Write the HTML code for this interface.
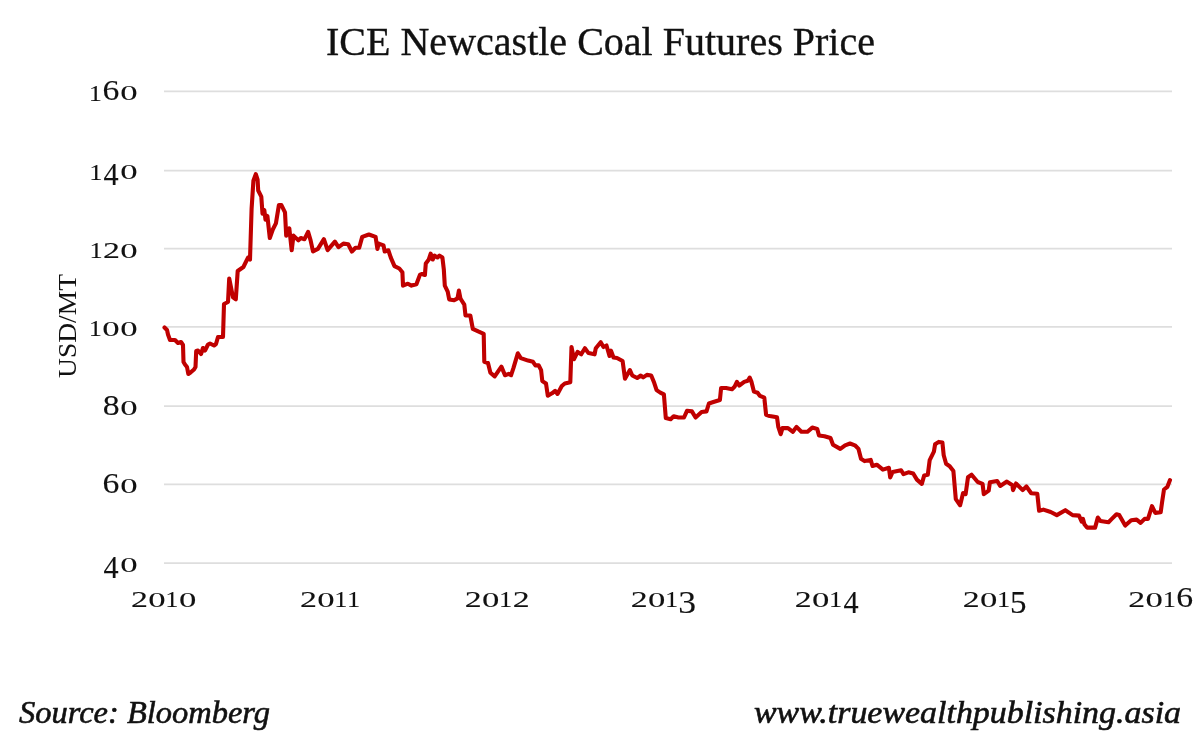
<!DOCTYPE html>
<html><head><meta charset="utf-8"><style>
html,body{margin:0;padding:0;background:#fff;}
svg{display:block;filter:blur(0.45px);}
text{font-family:"Liberation Serif",serif;fill:#111;}
.dg text{font-size:100px;stroke:#111;stroke-width:0.4px;}
</style></head><body>
<svg width="1200" height="740" viewBox="0 0 1200 740">
<rect width="1200" height="740" fill="#fff"/>
<g stroke="#dedede" stroke-width="1.8">
<line x1="164" y1="91.3" x2="1172" y2="91.3" />
<line x1="164" y1="170.6" x2="1172" y2="170.6" />
<line x1="164" y1="248.7" x2="1172" y2="248.7" />
<line x1="164" y1="326.8" x2="1172" y2="326.8" />
<line x1="164" y1="406.1" x2="1172" y2="406.1" />
<line x1="164" y1="484.3" x2="1172" y2="484.3" />
<line x1="164" y1="563.2" x2="1172" y2="563.2" />
</g>
<text x="326" y="55" stroke="#111" stroke-width="0.35" font-size="40" textLength="549" lengthAdjust="spacingAndGlyphs">ICE Newcastle Coal Futures Price</text>
<g class="dg">
<text transform="matrix(0.2629 0 0 0.2242 88.83 100.55)">1</text><text transform="matrix(0.3372 0 0 0.3015 102.45 99.95)">6</text><text transform="matrix(0.3476 0 0 0.2176 120.31 100.11)">0</text>
<text transform="matrix(0.2629 0 0 0.2242 89.13 179.85)">1</text><text transform="matrix(0.3021 0 0 0.3136 103.50 185.44)">4</text><text transform="matrix(0.3476 0 0 0.2176 120.31 179.41)">0</text>
<text transform="matrix(0.2629 0 0 0.2242 89.43 257.95)">1</text><text transform="matrix(0.3390 0 0 0.2209 103.04 257.73)">2</text><text transform="matrix(0.3476 0 0 0.2176 120.31 257.51)">0</text>
<text transform="matrix(0.2629 0 0 0.2242 88.73 336.05)">1</text><text transform="matrix(0.3476 0 0 0.2176 102.31 335.61)">0</text><text transform="matrix(0.3476 0 0 0.2176 120.31 335.61)">0</text>
<text transform="matrix(0.3381 0 0 0.3015 102.75 414.75)">8</text><text transform="matrix(0.3476 0 0 0.2176 120.31 414.91)">0</text>
<text transform="matrix(0.3372 0 0 0.3015 102.45 492.95)">6</text><text transform="matrix(0.3476 0 0 0.2176 120.31 493.11)">0</text>
<text transform="matrix(0.3021 0 0 0.3136 103.50 578.04)">4</text><text transform="matrix(0.3476 0 0 0.2176 120.31 572.01)">0</text>
<text transform="matrix(0.3390 0 0 0.2209 131.04 607.08)">2</text><text transform="matrix(0.3476 0 0 0.2176 148.31 606.86)">0</text><text transform="matrix(0.2629 0 0 0.2242 165.33 607.30)">1</text><text transform="matrix(0.3476 0 0 0.2176 178.91 606.86)">0</text>
<text transform="matrix(0.3390 0 0 0.2209 300.04 607.08)">2</text><text transform="matrix(0.3476 0 0 0.2176 317.31 606.86)">0</text><text transform="matrix(0.2629 0 0 0.2242 334.33 607.30)">1</text><text transform="matrix(0.2629 0 0 0.2242 346.93 607.30)">1</text>
<text transform="matrix(0.3390 0 0 0.2209 464.74 607.08)">2</text><text transform="matrix(0.3476 0 0 0.2176 482.01 606.86)">0</text><text transform="matrix(0.2629 0 0 0.2242 499.03 607.30)">1</text><text transform="matrix(0.3390 0 0 0.2209 512.64 607.08)">2</text>
<text transform="matrix(0.3390 0 0 0.2209 630.74 607.08)">2</text><text transform="matrix(0.3476 0 0 0.2176 648.01 606.86)">0</text><text transform="matrix(0.2629 0 0 0.2242 665.03 607.30)">1</text><text transform="matrix(0.3561 0 0 0.3090 678.22 612.89)">3</text>
<text transform="matrix(0.3390 0 0 0.2209 794.74 607.08)">2</text><text transform="matrix(0.3476 0 0 0.2176 812.01 606.86)">0</text><text transform="matrix(0.2629 0 0 0.2242 829.03 607.30)">1</text><text transform="matrix(0.3021 0 0 0.3136 843.40 612.89)">4</text>
<text transform="matrix(0.3390 0 0 0.2209 962.74 607.08)">2</text><text transform="matrix(0.3476 0 0 0.2176 980.01 606.86)">0</text><text transform="matrix(0.2629 0 0 0.2242 997.03 607.30)">1</text><text transform="matrix(0.3300 0 0 0.3136 1010.02 612.89)">5</text>
<text transform="matrix(0.3390 0 0 0.2209 1128.34 607.08)">2</text><text transform="matrix(0.3476 0 0 0.2176 1145.61 606.86)">0</text><text transform="matrix(0.2629 0 0 0.2242 1162.63 607.30)">1</text><text transform="matrix(0.3372 0 0 0.3015 1176.25 606.70)">6</text>
</g>
<text transform="translate(76,378) rotate(-90)" font-size="26" textLength="104" lengthAdjust="spacingAndGlyphs">USD/MT</text>
<polyline fill="none" stroke="#c00000" stroke-width="4.1" stroke-linejoin="round" stroke-linecap="round" points="164.5,327.5 167,330 168,334.5 170,340 175,340 178,343 181,342 183,345 183.5,362 185,364.5 187,367 188.3,374 190.5,372.5 194,369.5 195.5,367 196.2,351 198,350.5 201,354 203,348 205,350.5 208,344.5 210,343.5 214,345.5 216,344 218,337 223,337 224,304 228,302 229.2,278.5 233,297.4 235.8,299.3 237.7,271 243.4,267 248,257.7 250,259.6 251.6,208.8 253.4,180.8 255.8,174.1 257.6,179.6 258.2,190.5 261.3,196.6 262.5,213.7 264.3,210 265.5,219.7 267.4,216 269.8,238 272.8,229.5 275.9,223.4 278.9,205.1 281.4,205.1 285,212.4 286.2,235.6 289.3,228.3 291.7,250.2 293.5,235.6 298.4,240.4 300.8,238 304.5,239.2 308.1,231.9 310.6,240.4 313,251.4 317.9,248.9 323.9,239.2 327.6,250.2 334.9,241.6 338.5,247.2 343.4,243.6 348.2,244.2 351.9,251.5 355.5,247.8 359.2,247.8 362.2,236.9 368.9,234.5 375.6,236.9 377.4,249 378.7,243.6 383.5,245.4 384.7,251.5 388.4,250.3 390.8,257.6 394.5,266.1 399.3,268.5 402.4,272.2 403,285.6 407.9,283.7 411.5,285.6 416.4,284.3 420,274.6 422,274 424.9,275 425.8,263.4 428.8,259.5 430.7,253.6 432.7,259.5 434.6,255.6 437.5,257.5 439.5,255.6 442.4,257.5 443.8,269.2 444.8,285.7 447.7,291.6 449.2,299.4 454.1,300.3 457.5,298.4 458.9,290.6 460.4,298.4 461.2,299.7 464.3,304.6 465.5,315.5 470.3,315.5 472.8,328.9 478.2,331.4 483.7,333.8 484.3,361.8 488,363 490.4,372.7 494.7,376.4 501.4,366.6 505,375.2 508.7,373.9 511.1,375.2 513.5,367.9 517.8,353.3 520.8,358.1 528.1,360.6 533,361.8 535.4,365.4 538.6,365.3 541.1,370.1 542.3,381.1 546,383.5 547.8,395.7 552,393.3 555.1,390.8 557.5,393.9 561.8,386 564.8,383.5 570.3,382.3 571.5,347 573.9,359.2 577.6,351.9 581.2,354.3 584.9,348.2 588.5,353.1 594.6,354.3 595.8,348.2 600.7,342.2 603.5,347 606.5,345.5 609.5,356 611,350.7 613.5,357.5 617,358 622.6,361 625,378.7 629.9,370.1 632.3,375.5 637.2,378 640.8,375.5 643.2,377.4 646.9,374.9 651.2,375.5 654.2,382.8 656.6,390.1 660.3,392.6 663.9,394.4 665.8,418.1 670.6,419.3 673.7,416.3 678.5,417.5 684,417.5 687,410.8 691.9,411.4 695.6,417.5 701.6,412 706.5,411.4 708.9,403.5 712.6,402.3 719.9,400 721.1,388 726,388 732,389.2 734.5,386.8 736.9,381.9 739.3,385.5 744.2,381.9 747.8,380.7 749.7,377.6 751.5,381.9 753.9,391.6 757.6,392.8 760,395.9 764.3,397.7 766.1,414.7 769.7,416 777,417.2 778.3,426.9 780.7,434.2 782.5,428.1 788,428.1 792.9,431.8 796.5,426.9 801.4,431.8 807.5,431.8 812.3,427.6 817.2,428.9 819,435.5 824.5,436.2 830.5,438 833,444.7 840.3,448.9 845.1,445.3 850,443.5 854.9,445.3 858.5,448.9 861,458.7 864.6,461.1 870.7,459.9 872.5,466 876.8,464.7 882.9,469.6 888.9,467.8 890.2,477.5 892.6,472 901.1,470.2 903.5,474.1 908.4,472.3 913.2,473.5 916.9,479.6 921.8,483.9 924.2,475.4 927.8,474.7 929.7,460.1 933.9,451.6 935.1,444.3 938.8,441.9 942.4,442.5 943.7,455.3 946.1,463.8 949.7,466.2 953.4,471.1 955.8,499.1 960.1,505.2 963.1,493 965.6,494.2 968,477.2 971.6,474.7 977.7,482 982.6,483.9 983.8,494.2 988.7,490.6 989.9,482.2 997.2,481 1000.2,485.9 1006.9,481.6 1012.4,485.3 1013,490.1 1016,483.5 1022.7,490.1 1026.4,486.5 1031.2,493.2 1037.3,493.8 1039.1,510.8 1043.4,509.6 1050.7,512 1056.8,515.1 1065.3,510.2 1072.6,515.1 1079,515.6 1081.7,521.6 1083,518.9 1084.4,524.3 1087,527.6 1095.1,527.6 1097.8,517.6 1100.4,520.9 1108.5,522.2 1111.8,518.9 1116.5,514.2 1119.2,514.9 1125.2,525.6 1131.2,520.2 1136.6,519.6 1140.6,522.9 1144.6,518.9 1148,518.9 1152,506.2 1155.3,512.9 1160.7,512.2 1162,502.8 1164,489.5 1167.4,486.8 1170,480.1"/>
<text x="19" y="723" stroke="#111" stroke-width="0.6" font-size="32" font-style="italic" textLength="251" lengthAdjust="spacingAndGlyphs">Source: Bloomberg</text>
<text x="754" y="723" stroke="#111" stroke-width="0.6" font-size="32" font-style="italic" textLength="427" lengthAdjust="spacingAndGlyphs">www.truewealthpublishing.asia</text>
</svg>
</body></html>
